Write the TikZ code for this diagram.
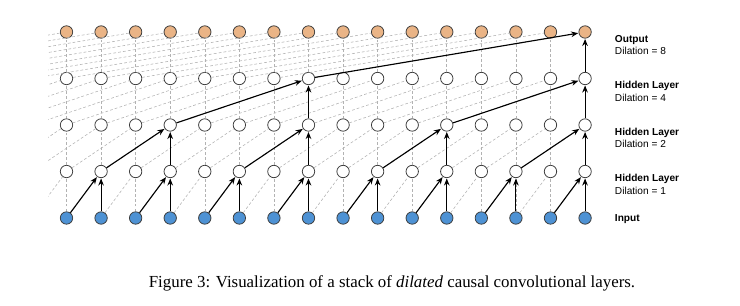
\documentclass[tikz,border=0pt]{standalone}
\usepackage{fontspec}
\setmainfont{Liberation Serif}
\setsansfont{Liberation Sans}
\usetikzlibrary{arrows.meta,calc,positioning}
\definecolor{inblue}{RGB}{78,146,212}
\definecolor{outorange}{RGB}{234,180,134}
\definecolor{rimgray}{RGB}{60,60,60}
\tikzset{arr/.style={-{Stealth[length=5pt,width=4pt]}, line width=0.8pt, shorten >=0.3pt},
  grid/.style={gray!60, line width=0.4pt, dash pattern=on 2pt off 1.5pt},
  unit/.style={circle, draw=rimgray, line width=0.55pt, minimum size=3.1mm, inner sep=0pt, fill=white},
  inunit/.style={unit, fill=inblue},
  outunit/.style={unit, fill=outorange},
  lbl/.style={anchor=west, align=left, font=\sffamily\fontsize{7.2}{8.8}\selectfont}}

\begin{document}
\begin{tikzpicture}[x=0.025cm, y=-0.025cm]
  \useasboundingbox (0,0) rectangle (740,306);
  % units, row 0 is the input, row 4 the output
  \foreach \c in {0,...,15}{
    \node[inunit] (n-0-\c) at ({66.5+34.57*\c}, 218) {};
    \node[unit] (n-1-\c) at ({66.5+34.57*\c}, 171.5) {};
    \node[unit] (n-2-\c) at ({66.5+34.57*\c}, 125) {};
    \node[unit] (n-3-\c) at ({66.5+34.57*\c}, 78.5) {};
    \node[outunit] (n-4-\c) at ({66.5+34.57*\c}, 32) {};}
  % points left of the first column, for the cut-off taps
  \foreach \r in {0,...,4}
    \foreach \c in {-8,...,-1}
      \coordinate (n-\r-\c) at ({66.5+34.57*\c}, {218-46.5*\r});
  % all taps in grey
  \begin{scope}
    \clip (48,20) rectangle (600,230);
    \foreach \r/\d in {1/1,2/2,3/4,4/8}
      \foreach \c in {0,...,15}{
        \pgfmathtruncatemacro\rr{\r-1}
        \pgfmathtruncatemacro\a{\c-\d}
        \draw[grid] (n-\rr-\c) -- (n-\r-\c);
        \draw[grid] (n-\rr-\a) -- (n-\r-\c);}
  \end{scope}
  % receptive field of the last output
  \foreach \b in {1,3,...,15}{
    \pgfmathtruncatemacro\a{\b-1}
    \draw[arr] (n-0-\a) -- (n-1-\b);
    \draw[arr] (n-0-\b) -- (n-1-\b);}
  \foreach \b in {3,7,11,15}{
    \pgfmathtruncatemacro\a{\b-2}
    \draw[arr] (n-1-\a) -- (n-2-\b);
    \draw[arr] (n-1-\b) -- (n-2-\b);}
  \foreach \b in {7,15}{
    \pgfmathtruncatemacro\a{\b-4}
    \draw[arr] (n-2-\a) -- (n-3-\b);
    \draw[arr] (n-2-\b) -- (n-3-\b);}
  \draw[arr] (n-3-7) -- (n-4-15);
  \draw[arr] (n-3-15) -- (n-4-15);
  % layer names
  \node[lbl] (lab-4) at (610,45) {\textbf{Output}\\Dilation = 8};
  \node[lbl] (lab-3) at (610,91.5) {\textbf{Hidden Layer}\\Dilation = 4};
  \node[lbl] (lab-2) at (610,138) {\textbf{Hidden Layer}\\Dilation = 2};
  \node[lbl] (lab-1) at (610,184.5) {\textbf{Hidden Layer}\\Dilation = 1};
  \node[lbl] (lab-0) at (610,219) {\textbf{Input}};
  \node[font=\fontsize{12}{14}\selectfont] (cap) at (392,283)
    {Figure 3: Visualization of a stack of \textit{dilated} causal convolutional layers.};
\end{tikzpicture}
\end{document}
